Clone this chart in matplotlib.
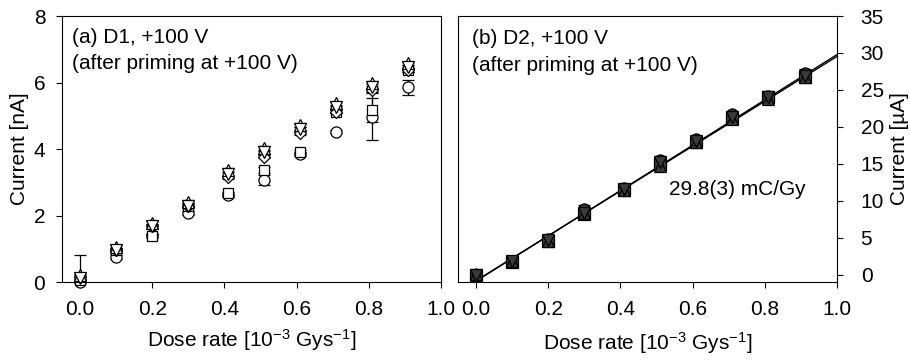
import numpy as np
import matplotlib.pyplot as plt

plt.rcParams['font.family'] = ['Liberation Sans', 'DejaVu Sans']
plt.rcParams['mathtext.default'] = 'regular'
FS = 15

# === Dose rates [1e-3 Gy/s] ===
dose = [0.0, 0.10, 0.20, 0.30, 0.41, 0.51, 0.61, 0.71, 0.81, 0.91]

# === (a) D1, currents in nA ===
d1_circle = [0.0, 0.75, 1.40, 2.08, 2.62, 3.07, 3.85, 4.52, 4.97, 5.86]
d1_circle_err_lo = [0.0, 0.05, 0.05, 0.05, 0.05, 0.15, 0.05, 0.05, 0.70, 0.23]
d1_circle_err_hi = [0.8, 0.05, 0.05, 0.05, 0.05, 0.15, 0.05, 0.05, 0.70, 0.23]
d1_square = [0.05, 0.97, 1.38, 2.30, 2.67, 3.37, 3.92, 5.12, 5.17, 6.38]
d1_square_err = [0.05, 0.05, 0.05, 0.05, 0.05, 0.1, 0.05, 0.05, 0.35, 0.05]
d1_diamond = [0.15, 0.97, 1.68, 2.30, 3.15, 3.77, 4.48, 5.12, 5.77, 6.38]
d1_tri_up = [0.20, 1.05, 1.77, 2.42, 3.37, 4.03, 4.72, 5.37, 6.00, 6.58]
d1_tri_down = [0.12, 0.97, 1.68, 2.30, 3.25, 3.90, 4.60, 5.25, 5.85, 6.48]

# === (b) D2, currents in uA ===
d2_circle = [0.0, 1.9, 4.8, 8.9, 11.7, 15.5, 18.3, 21.7, 24.2, 27.3]
d2_square = [0.0, 1.7, 4.6, 8.2, 11.5, 15.0, 18.0, 21.2, 24.0, 26.8]
d2_tri_up = [0.1, 1.8, 4.5, 8.3, 11.4, 14.7, 17.9, 21.0, 23.8, 26.7]
d2_tri_down = [-0.1, 1.8, 4.7, 8.4, 11.6, 15.2, 18.1, 21.3, 24.1, 26.9]
d2_err = [0.3, 0.5, 0.4, 0.5, 0.4, 0.6, 0.4, 0.5, 0.4, 0.5]

fig = plt.figure(figsize=(9.1, 3.63), dpi=100)
ax1 = fig.add_axes([0.0681, 0.2231, 0.4165, 0.7328])
ax2 = fig.add_axes([0.5033, 0.2231, 0.4165, 0.7328])

mk = dict(mfc='white', mec='black', mew=0.9, ms=8, ls='none',
          ecolor='black', elinewidth=0.9, capsize=4, clip_on=False)

# --- panel (a) ---
ax1.errorbar(dose, d1_circle, yerr=[d1_circle_err_lo, d1_circle_err_hi], marker='o', **mk)
ax1.errorbar(dose, d1_square, yerr=d1_square_err, marker='s', **dict(mk, ms=7.5))
ax1.errorbar(dose, d1_diamond, yerr=0.05, marker='D', **dict(mk, ms=6.5))
ax1.errorbar(dose, d1_tri_up, yerr=0.05, marker='^', **mk)
ax1.errorbar(dose, d1_tri_down, yerr=0.05, marker='v', **mk)
ax1.set_xlim(-0.05, 1.0)
ax1.set_ylim(0, 8)
ax1.set_yticks([0, 2, 4, 6, 8])
ax1.set_ylabel('Current [nA]', fontsize=FS, labelpad=3)
ax1.text(0.026, 0.955, '(a) D1, +100 V\n(after priming at +100 V)', transform=ax1.transAxes,
         fontsize=FS, va='top', ha='left', linespacing=1.5)

# --- panel (b) ---
for vals, m in [(d2_circle, 'o'), (d2_square, 's'), (d2_tri_up, '^'), (d2_tri_down, 'v')]:
    ax2.errorbar(dose, vals, yerr=d2_err, marker=m, **dict(mk, mfc='#3a3a3a', clip_on=True))
xfit = np.array([-0.05, 1.0])
for vals in [d2_tri_up, d2_square]:
    p = np.polyfit(dose, vals, 1)
    ax2.plot(xfit, np.polyval(p, xfit), color='black', lw=1.0)
ax2.set_xlim(-0.05, 1.0)
ax2.set_ylim(-1, 35)
ax2.set_yticks(range(0, 36, 5))
ax2.yaxis.tick_right()
ax2.yaxis.set_label_position('right')
ax2.set_ylabel('Current [µA]', fontsize=FS, labelpad=4)
ax2.text(0.037, 0.95, '(b) D2, +100 V\n(after priming at +100 V)', transform=ax2.transAxes,
         fontsize=FS, va='top', ha='left', linespacing=1.5)
ax2.text(0.535, 11.5, '29.8(3) mC/Gy', fontsize=FS, va='center', ha='left')

for ax in (ax1, ax2):
    ax.set_xticks([0.0, 0.2, 0.4, 0.6, 0.8, 1.0])
    ax.set_xticklabels(['0.0', '0.2', '0.4', '0.6', '0.8', '1.0'])
    ax.tick_params(axis='both', labelsize=FS, direction='out', length=4, width=0.8)
    ax.tick_params(axis='x', pad=9)
    for s in ax.spines.values():
        s.set_linewidth(0.8)
ax1.tick_params(axis='y', pad=8)
ax2.tick_params(axis='y', pad=13)
ax1.set_xlabel('Dose rate [10$^{-3}$ Gys$^{-1}$]', fontsize=FS, labelpad=6)
ax2.set_xlabel('Dose rate [10$^{-3}$ Gys$^{-1}$]', fontsize=FS, labelpad=8)

fig.savefig('out.png', dpi=100)
